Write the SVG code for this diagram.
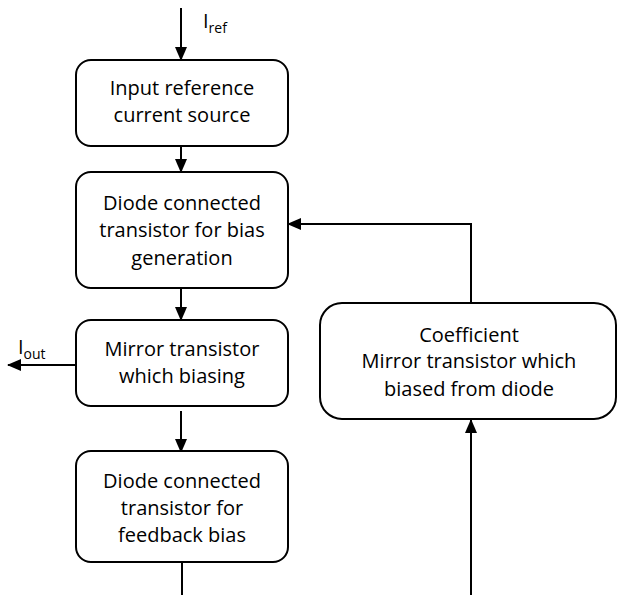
<svg xmlns="http://www.w3.org/2000/svg" width="617" height="595" viewBox="0 0 617 595">
<defs>
<marker id="ah" markerWidth="14" markerHeight="12" refX="13" refY="6" orient="auto" markerUnits="userSpaceOnUse">
<path d="M0,0 L14,6 L0,12 Z" fill="#000"/>
</marker>
<style>
.box{fill:#fff;stroke:#000;stroke-width:2}
.ln{fill:none;stroke:#000;stroke-width:2}
text{font-family:"Open Sans","Liberation Sans",Arial,sans-serif;font-size:20px;fill:#000;text-anchor:middle}
.lab{text-anchor:start}
</style>
</defs>
<rect width="617" height="595" fill="#fff"/>
<g id="connectors">
<line class="ln" x1="181" y1="8" x2="181" y2="60" marker-end="url(#ah)"/>
<line class="ln" x1="181" y1="146" x2="181" y2="172" marker-end="url(#ah)"/>
<line class="ln" x1="181" y1="288" x2="181" y2="320" marker-end="url(#ah)"/>
<line class="ln" x1="181" y1="411" x2="181" y2="452" marker-end="url(#ah)"/>
<line class="ln" x1="182" y1="562" x2="182" y2="595"/>
<polyline class="ln" points="471,303 471,224 288,224" marker-end="url(#ah)"/>
<line class="ln" x1="471" y1="595" x2="471" y2="420" marker-end="url(#ah)"/>
<line class="ln" x1="76" y1="365" x2="8" y2="365" marker-end="url(#ah)"/>
<text class="lab" x="203" y="28" font-size="20">I<tspan font-size="14" dy="5">ref</tspan></text>
<text class="lab" x="18" y="354" font-size="20">I<tspan font-size="14" dy="5">out</tspan></text>
</g>
<g id="n1">
<rect class="box" x="76" y="60" width="212" height="86" rx="15"/>
<text x="182" y="95">Input reference</text>
<text x="182" y="122">current source</text>
</g>
<g id="n2">
<rect class="box" x="76" y="172" width="212" height="116" rx="15"/>
<text x="182" y="210">Diode connected</text>
<text x="182" y="237">transistor for bias</text>
<text x="182" y="265">generation</text>
</g>
<g id="n3">
<rect class="box" x="76" y="320" width="212" height="86" rx="15"/>
<text x="182" y="356">Mirror transistor</text>
<text x="182" y="383">which biasing</text>
</g>
<g id="n4">
<rect class="box" x="76" y="451" width="212" height="111" rx="15"/>
<text x="182" y="488">Diode connected</text>
<text x="182" y="515">transistor for</text>
<text x="182" y="542">feedback bias</text>
</g>
<g id="n5">
<rect class="box" x="320" y="303" width="296" height="116" rx="22"/>
<text x="469" y="342">Coefficient</text>
<text x="469" y="368">Mirror transistor which</text>
<text x="469" y="396">biased from diode</text>
</g>
</svg>
